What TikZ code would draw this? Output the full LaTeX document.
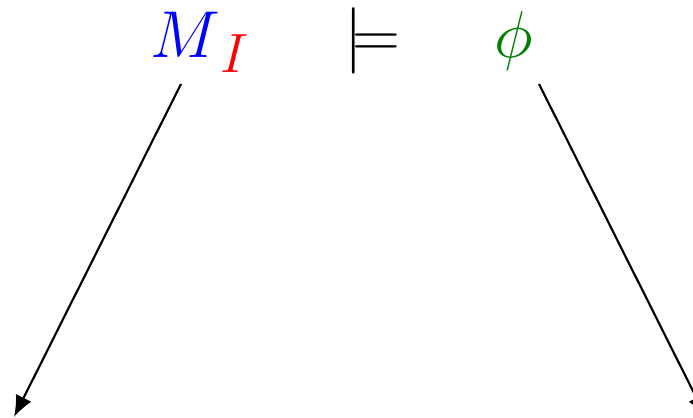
\documentclass[tikz,border=0pt]{standalone}
\usepackage{xcolor}
\usetikzlibrary{arrows.meta,positioning}
\definecolor{phigreen}{RGB}{0,128,0}

\begin{document}
\begin{tikzpicture}[
  x=0.375pt, y=-0.375pt,
  font=\Huge,
  every node/.style={inner sep=0pt},
  arr/.style={-{Latex[length=8pt,width=6.5pt]},thick}
]
\useasboundingbox (0,0) rectangle (693,418);
\clip (0,0) rectangle (693,418);

% Judgement M_I |= phi.
\node[anchor=base west] (lhs) at (150,58)
     {$\textcolor{blue}{M}_{\textcolor{red}{I}}$};
\node[base right=35.2pt of lhs] (models) {$\models$};
\node[base right=34.9pt of models,text=phigreen] (rhs) {$\phi$};

% Branches, running off the page.
\coordinate (lstart) at (181,84);
\coordinate (lend)   at (14,417);
\coordinate (rstart) at (539,84);
\coordinate (rend)   at (706,417);

\draw[arr] (lstart) -- (lend);
\draw[arr] (rstart) -- (rend);
\end{tikzpicture}
\end{document}
